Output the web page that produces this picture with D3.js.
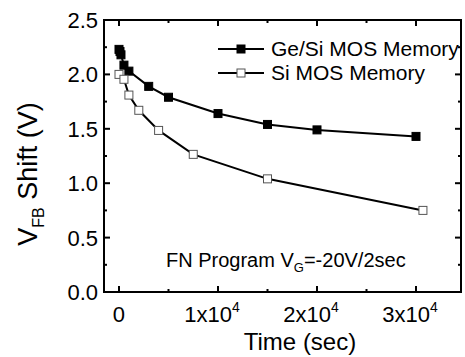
<!DOCTYPE html>
<html>
<head>
<meta charset="utf-8">
<script src="https://cdn.jsdelivr.net/npm/d3@7"></script>
<style>
  body { margin: 0; background: #fff; }
  text { font-family: Arial, "Liberation Sans", sans-serif; fill: #000; }
</style>
</head>
<body>
<svg id="chart" width="465" height="357"></svg>
<script>
// data
const geTime = [0, 100, 200, 500, 1000, 3000, 5000, 10000, 15000, 20000, 30000];
const geShift = [2.23, 2.21, 2.18, 2.085, 2.03, 1.89, 1.79, 1.64, 1.54, 1.49, 1.43];
const siTime = [0, 500, 1000, 2000, 4000, 7500, 15000, 30700];
const siShift = [2.0, 1.955, 1.81, 1.67, 1.485, 1.265, 1.04, 0.75];
const yTicks = [0, 0.5, 1.0, 1.5, 2.0, 2.5];
const xTicks = [0, 10000, 20000, 30000];
const seriesNames = ["Ge/Si MOS Memory", "Si MOS Memory"];

const margin = { top: 20, right: 4, bottom: 65, left: 104 };
const width = 465, height = 357;

const svg = d3.select("#chart");

const x = d3.scaleLinear()
  .domain([-1515, 34545])
  .range([margin.left, width - margin.right]);

const y = d3.scaleLinear()
  .domain([0, 2.5])
  .range([height - margin.bottom, margin.top]);

const x0 = margin.left, x1 = width - margin.right;
const y0 = height - margin.bottom, y1 = margin.top;

// minor ticks every half step
const xMinor = d3.range(0, 35000, 5000);
const yMinor = d3.range(0, 2.51, 0.25);

// + TICKS (inward, mirrored on all sides)
const tk = svg.append("g").attr("stroke", "#000").attr("stroke-width", 2);
xMinor.forEach(v => {
  const len = v % 10000 === 0 ? 6 : 3;
  tk.append("line").attr("x1", x(v)).attr("x2", x(v)).attr("y1", y0).attr("y2", y0 - len);
  tk.append("line").attr("x1", x(v)).attr("x2", x(v)).attr("y1", y1).attr("y2", y1 + len);
});
yMinor.forEach(v => {
  const major = Math.abs(v * 2 - Math.round(v * 2)) < 1e-6;
  const len = major ? 6 : 3;
  tk.append("line").attr("x1", x0).attr("x2", x0 + len).attr("y1", y(v)).attr("y2", y(v));
  tk.append("line").attr("x1", x1).attr("x2", x1 - len).attr("y1", y(v)).attr("y2", y(v));
});

// + FRAME
svg.append("rect")
  .attr("x", x0).attr("y", y1)
  .attr("width", x1 - x0).attr("height", y0 - y1)
  .attr("fill", "none").attr("stroke", "#000").attr("stroke-width", 2);

// + TICK LABELS
svg.selectAll(".ylab")
  .data(yTicks)
  .join("text")
  .attr("class", "ylab")
  .attr("x", x0 - 6)
  .attr("y", d => y(d) + 8)
  .attr("text-anchor", "end")
  .attr("font-size", 22)
  .text(d => d.toFixed(1));

svg.selectAll(".xlab")
  .data(xTicks)
  .join("text")
  .attr("class", "xlab")
  .attr("x", d => d === 0 ? x(d) : x(d) - 6)
  .attr("y", y0 + 30)
  .attr("text-anchor", "middle")
  .attr("font-size", 22)
  .each(function(d) {
    const t = d3.select(this);
    if (d === 0) { t.text("0"); return; }
    t.append("tspan").text(`${d / 10000}x10`);
    t.append("tspan").attr("font-size", 14).attr("dy", -10).text("4");
  });

// + AXIS TITLES
svg.append("text")
  .attr("x", 300).attr("y", 350)
  .attr("text-anchor", "middle")
  .attr("font-size", 24)
  .text("Time (sec)");

const yt = svg.append("text")
  .attr("transform", `translate(37, 174) rotate(-90)`)
  .attr("text-anchor", "middle")
  .attr("font-size", 27);
yt.append("tspan").text("V");
yt.append("tspan").attr("font-size", 16).attr("dy", 7).text("FB");
yt.append("tspan").attr("dy", -7).text(" Shift (V)");

// + LINES AND MARKERS
const lineGen = d3.line()
  .x(d => x(d[0]))
  .y(d => y(d[1]));

const geData = d3.zip(geTime, geShift);
const siData = d3.zip(siTime, siShift);

[[geData, true], [siData, false]].forEach(([data, filled]) => {
  svg.append("path")
    .datum(data)
    .attr("fill", "none")
    .attr("stroke", "#000")
    .attr("stroke-width", 2)
    .attr("d", lineGen);
  svg.append("g").selectAll("rect")
    .data(data)
    .join("rect")
    .attr("x", d => x(d[0]) - 4)
    .attr("y", d => y(d[1]) - 4)
    .attr("width", 8).attr("height", 8)
    .attr("fill", filled ? "#000" : "#fff")
    .attr("stroke", filled ? "#000" : "#555")
    .attr("stroke-width", 1);
});

// + LEGEND
const legend = svg.append("g");
seriesNames.forEach((name, i) => {
  const ly = 49 + i * 24;
  legend.append("line")
    .attr("x1", 218).attr("x2", 264).attr("y1", ly).attr("y2", ly)
    .attr("stroke", "#000").attr("stroke-width", 2);
  legend.append("rect")
    .attr("x", 237).attr("y", ly - 4).attr("width", 8).attr("height", 8)
    .attr("fill", i === 0 ? "#000" : "#fff")
    .attr("stroke", i === 0 ? "#000" : "#555");
  legend.append("text")
    .attr("x", 271).attr("y", ly + 7)
    .attr("font-size", 21)
    .text(name);
});

// + ANNOTATION
const ann = svg.append("text")
  .attr("x", 166).attr("y", 267)
  .attr("font-size", 20);
ann.append("tspan").text("FN Program V");
ann.append("tspan").attr("font-size", 13).attr("dy", 5).text("G");
ann.append("tspan").attr("dy", -5).text("=-20V/2sec");
</script>
</body>
</html>
